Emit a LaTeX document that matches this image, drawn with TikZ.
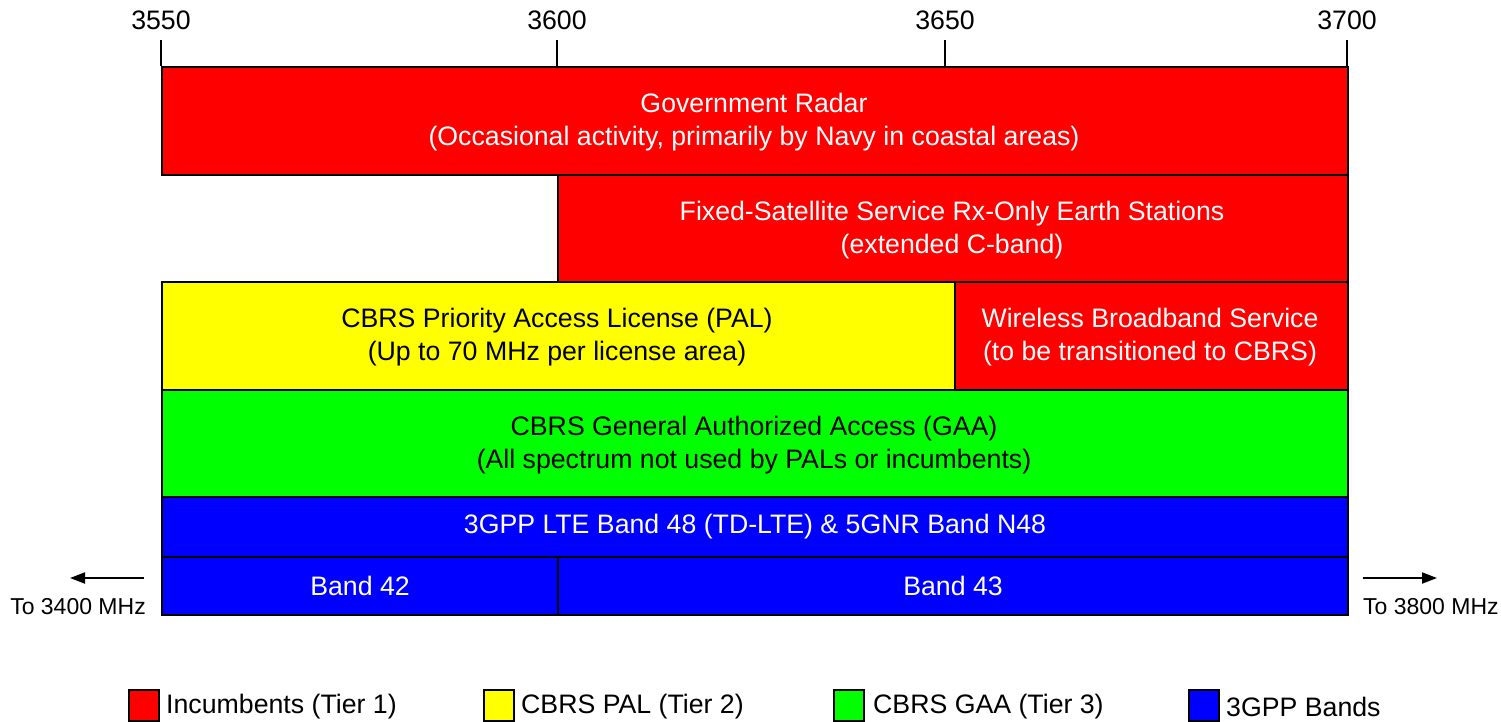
\documentclass[tikz,border=0pt]{standalone}
\usepackage{fontspec}
\setmainfont{Liberation Sans}
\usetikzlibrary{arrows.meta}
\definecolor{inc}{RGB}{255,0,0}
\definecolor{pal}{RGB}{255,255,0}
\definecolor{gaa}{RGB}{0,255,0}
\definecolor{gpp}{RGB}{0,0,255}
\tikzset{
  band/.style={draw=black, line width=2pt, anchor=north west, inner sep=0pt, align=center,
    font=\fontsize{26.7}{33}\selectfont},
  bandtext/.style={inner sep=0pt, align=center, font=\fontsize{26.7}{33}\selectfont},
  tickline/.style={line width=2pt},
  ticklabel/.style={font=\fontsize{26.7}{32}\selectfont, inner sep=0pt},
  sidelabel/.style={font=\fontsize{23}{27}\selectfont, inner sep=0pt},
  sidearrow/.style={line width=2pt, -{Triangle[length=15pt,width=11pt]}},
  legbox/.style={draw=black, line width=1.5pt, minimum width=30pt, minimum height=31pt, inner sep=0pt, anchor=north west},
  legtext/.style={font=\fontsize{26.7}{32}\selectfont, inner sep=0pt, anchor=west},
}
\begin{document}
\begin{tikzpicture}[x=1pt,y=-1pt]
\useasboundingbox (0,0) rectangle (1501,721);
% bands
\node[band, fill=inc, minimum width=1186pt, minimum height=108pt] (radar) at (161,66) {};
\node[bandtext, text=white] (radart) at (754,122)
  {Government Radar\\(Occasional activity, primarily by Navy in coastal areas)};
\node[band, fill=inc, minimum width=790pt, minimum height=107pt] (fss) at (557,174) {};
\node[bandtext, text=white] (fsst) at (952,230)
  {Fixed-Satellite Service Rx-Only Earth Stations\\(extended C-band)};
\node[band, fill=pal, minimum width=793pt, minimum height=108pt] (palb) at (161,281) {};
\node[bandtext, text=black] (palt) at (557,337)
  {CBRS Priority Access License (PAL)\\(Up to 70 MHz per license area)};
\node[band, fill=inc, minimum width=393pt, minimum height=108pt] (wbs) at (954,281) {};
\node[bandtext, text=white] (wbst) at (1150,337)
  {Wireless Broadband Service\\(to be transitioned to CBRS)};
\node[band, fill=gaa, minimum width=1186pt, minimum height=107pt] (gaab) at (161,389) {};
\node[bandtext, text=black] (gaat) at (754,445)
  {CBRS General Authorized Access (GAA)\\(All spectrum not used by PALs or incumbents)};
\node[band, fill=gpp, text=white, minimum width=1186pt, minimum height=60pt] (b48) at (161,496)
  {3GPP LTE Band 48 (TD-LTE) \& 5GNR Band N48};
\node[band, fill=gpp, text=white, minimum width=396pt, minimum height=58pt] (b42) at (161,556)
  {Band 42};
\node[band, fill=gpp, text=white, minimum width=790pt, minimum height=58pt] (b43) at (557,556)
  {Band 43};
% ticks
\coordinate (t1) at (161,40); \coordinate (t2) at (557,40);
\coordinate (t3) at (945,40); \coordinate (t4) at (1347,40);
\draw[tickline] (t1) -- (161,66);
\draw[tickline] (t2) -- (557,66);
\draw[tickline] (t3) -- (945,66);
\draw[tickline] (t4) -- (1347,66);
\node[ticklabel] (l1) at (161,20) {3550};
\node[ticklabel] (l2) at (557,20) {3600};
\node[ticklabel] (l3) at (945,20) {3650};
\node[ticklabel] (l4) at (1347,20) {3700};
% side arrows
\coordinate (la1) at (144,578); \coordinate (la2) at (70,578);
\coordinate (ra1) at (1363,578); \coordinate (ra2) at (1437,578);
\draw[sidearrow] (la1) -- (la2);
\draw[sidearrow] (ra1) -- (ra2);
\node[sidelabel, anchor=east] (lt) at (146,607) {To 3400 MHz};
\node[sidelabel, anchor=west] (rt) at (1363,607) {To 3800 MHz};
% legend
\node[legbox, fill=inc] (k1) at (128,689) {};
\node[legtext] (k1t) at (166,707) {Incumbents (Tier 1)};
\node[legbox, fill=pal] (k2) at (483,689) {};
\node[legtext] (k2t) at (521,707) {CBRS PAL (Tier 2)};
\node[legbox, fill=gaa] (k3) at (833,689) {};
\node[legtext] (k3t) at (873,707) {CBRS GAA (Tier 3)};
\node[legbox, fill=gpp] (k4) at (1188,689) {};
\node[legtext] (k4t) at (1226,707) {3GPP Bands};
\end{tikzpicture}
\end{document}
